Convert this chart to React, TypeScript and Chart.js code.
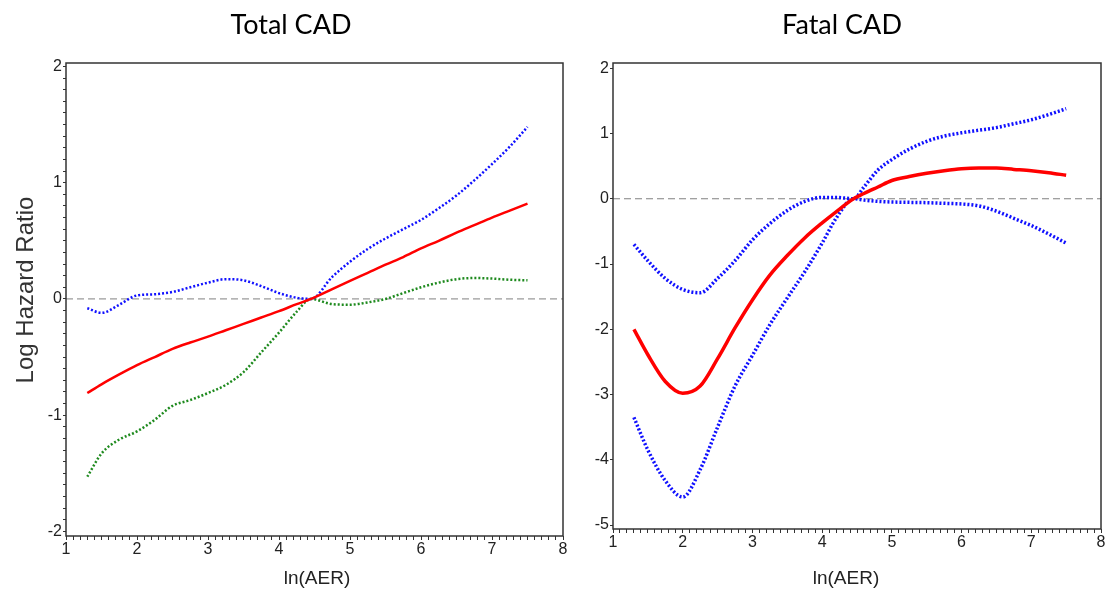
import React, { useEffect, useRef } from "react";
import { Chart, registerables } from "chart.js";

Chart.register(...registerables);

// ---------- Data: Total CAD ----------
const totalX = [1.3, 1.5, 1.75, 2.0, 2.25, 2.5, 2.75, 3.0, 3.25, 3.5, 3.75, 4.0, 4.25, 4.45, 4.75, 5.0, 5.25, 5.5, 5.75, 6.0, 6.25, 6.5, 6.75, 7.0, 7.25, 7.5];
const totalEstimate = [-0.81, -0.735, -0.65, -0.57, -0.5, -0.43, -0.375, -0.325, -0.27, -0.215, -0.16, -0.105, -0.045, 0.0, 0.085, 0.155, 0.225, 0.295, 0.36, 0.435, 0.5, 0.57, 0.635, 0.7, 0.76, 0.82];
const totalUpper = [-0.08, -0.12, -0.05, 0.03, 0.04, 0.06, 0.1, 0.14, 0.17, 0.16, 0.11, 0.05, 0.01, 0.0, 0.19, 0.32, 0.43, 0.52, 0.6, 0.68, 0.78, 0.89, 1.02, 1.16, 1.31, 1.48];
const totalLower = [-1.53, -1.33, -1.21, -1.14, -1.04, -0.92, -0.87, -0.81, -0.74, -0.63, -0.46, -0.29, -0.11, 0.0, -0.045, -0.05, -0.03, 0.0, 0.05, 0.1, 0.14, 0.17, 0.18, 0.175, 0.165, 0.16];

// ---------- Data: Fatal CAD ----------
const fatalX = [1.3, 1.5, 1.75, 2.0, 2.25, 2.5, 2.75, 3.0, 3.25, 3.5, 3.75, 4.0, 4.2, 4.45, 4.6, 4.8, 5.0, 5.25, 5.5, 5.75, 6.0, 6.25, 6.5, 6.75, 7.0, 7.25, 7.5];
const fatalEstimate = [-2.0, -2.39, -2.8, -2.98, -2.87, -2.45, -1.98, -1.55, -1.17, -0.87, -0.6, -0.37, -0.2, 0.0, 0.08, 0.18, 0.28, 0.34, 0.39, 0.43, 0.46, 0.47, 0.47, 0.45, 0.43, 0.4, 0.36];
const fatalUpper = [-0.7, -0.95, -1.22, -1.39, -1.44, -1.22, -0.95, -0.63, -0.38, -0.18, -0.04, 0.02, 0.02, 0.0, 0.18, 0.44, 0.6, 0.76, 0.88, 0.96, 1.01, 1.05, 1.09, 1.15, 1.21, 1.29, 1.38];
const fatalLower = [-3.35, -3.85, -4.32, -4.57, -4.15, -3.5, -2.87, -2.4, -1.93, -1.52, -1.12, -0.68, -0.3, 0.0, -0.02, -0.04, -0.05, -0.055, -0.06, -0.07, -0.08, -0.11, -0.19, -0.3, -0.41, -0.54, -0.68];

// reference line
const refX = [1, 8];
const refY = [0, 0];

// axes
const xMajorTicks = [1, 2, 3, 4, 5, 6, 7, 8];
const totalYMajorTicks = [-2, -1, 0, 1, 2];
const fatalYMajorTicks = [-5, -4, -3, -2, -1, 0, 1, 2];

const TICK_FONT = "'Liberation Sans Narrow', 'Arial Narrow', sans-serif";

function pts(xs: number[], ys: number[]) {
  return xs.map((x, i) => ({ x, y: ys[i] }));
}

function withMinor(major: number[], step: number) {
  const out: number[] = [];
  const lo = major[0];
  const hi = major[major.length - 1];
  const n = Math.round((hi - lo) / step);
  for (let i = 0; i <= n; i++) out.push(Math.round((lo + i * step) * 1000) / 1000);
  return out;
}

const textPlugin = {
  id: "texts",
  afterDraw(chart: any, _args: any, opts: any) {
    const ctx = chart.ctx;
    (opts.items || []).forEach((it: any) => {
      ctx.save();
      ctx.font = it.font;
      ctx.fillStyle = it.color;
      ctx.textAlign = "center";
      ctx.textBaseline = "middle";
      ctx.translate(it.x, it.y);
      if (it.rotate) ctx.rotate(it.rotate);
      ctx.fillText(it.text, 0, 0);
      ctx.restore();
    });
  },
};

const boxPlugin = {
  id: "box",
  afterDraw(chart: any) {
    const { ctx, chartArea } = chart;
    ctx.save();
    ctx.strokeStyle = "#333";
    ctx.lineWidth = 1.5;
    ctx.strokeRect(chartArea.left, chartArea.top, chartArea.right - chartArea.left, chartArea.bottom - chartArea.top);
    ctx.restore();
  },
};

type PanelCfg = {
  width: number;
  yWidth: number;
  xHeight: number;
  padRight: number;
  yMin: number;
  yMax: number;
  yTicks: number[];
  yMinor: boolean;
  datasets: any[];
  texts: any[];
};

function makeConfig(p: PanelCfg): any {
  const xTickVals = withMinor(xMajorTicks, 0.1);
  const yTickVals = p.yMinor ? withMinor(p.yTicks, 0.1) : p.yTicks.slice();
  const isInt = (v: number) => Math.abs(v - Math.round(v)) < 1e-6;
  return {
    type: "line",
    data: { datasets: p.datasets },
    plugins: [textPlugin, boxPlugin],
    options: {
      animation: false,
      responsive: false,
      devicePixelRatio: 1,
      layout: { padding: { top: 63, right: p.padRight, left: 0, bottom: 0 } },
      plugins: {
        legend: { display: false },
        tooltip: { enabled: false },
        texts: { items: p.texts },
      },
      elements: { point: { radius: 0 } },
      scales: {
        x: {
          type: "linear",
          min: 1,
          max: 8,
          afterBuildTicks: (s: any) => {
            s.ticks = xTickVals.map((v) => ({ value: v }));
          },
          afterFit: (s: any) => {
            s.height = p.xHeight;
          },
          grid: { drawOnChartArea: false, drawTicks: true, tickLength: 4, color: "#333", lineWidth: 1 },
          border: { display: false },
          ticks: {
            autoSkip: false,
            maxRotation: 0,
            padding: 0,
            color: "#222",
            font: { family: TICK_FONT, size: 16 },
            callback: (v: number) => (isInt(v) ? String(Math.round(v)) : ""),
          },
        },
        y: {
          type: "linear",
          min: p.yMin,
          max: p.yMax,
          afterBuildTicks: (s: any) => {
            s.ticks = yTickVals.map((v) => ({ value: v }));
          },
          afterFit: (s: any) => {
            s.width = p.yWidth;
          },
          grid: { drawOnChartArea: false, drawTicks: true, tickLength: 3, color: "#333", lineWidth: 1 },
          border: { display: false },
          ticks: {
            autoSkip: false,
            padding: 1,
            color: "#222",
            font: { family: TICK_FONT, size: 16 },
            callback: (v: number) => (isInt(v) ? String(Math.round(v)) : ""),
          },
        },
      },
    },
  };
}

const refDataset = {
  data: pts(refX, refY),
  borderColor: "#808080",
  borderWidth: 1,
  borderDash: [7, 4],
  pointRadius: 0,
  order: 10,
};

function line(xs: number[], ys: number[], color: string, width: number, dash: number[] | null, order: number) {
  return {
    data: pts(xs, ys),
    borderColor: color,
    borderWidth: width,
    borderDash: dash || [],
    pointRadius: 0,
    cubicInterpolationMode: "monotone",
    order,
  };
}

function Panel({ left, cfg }: { left: number; cfg: PanelCfg }) {
  const ref = useRef<HTMLCanvasElement | null>(null);
  useEffect(() => {
    if (!ref.current) return;
    const chart = new Chart(ref.current, makeConfig(cfg));
    return () => chart.destroy();
  }, []);
  return (
    <div style={{ position: "absolute", left, top: 0, width: cfg.width, height: 598 }}>
      <canvas ref={ref} width={cfg.width} height={598} style={{ width: cfg.width, height: 598, display: "block" }} />
    </div>
  );
}

const totalCfg: PanelCfg = {
  width: 582,
  yWidth: 66,
  xHeight: 62,
  padRight: 19,
  yMin: -2.04,
  yMax: 2.03,
  yTicks: totalYMajorTicks,
  yMinor: true,
  datasets: [
    line(totalX, totalEstimate, "#ff0000", 2.5, null, 1),
    line(totalX, totalUpper, "#1010ff", 2.5, [2, 2], 2),
    line(totalX, totalLower, "#1e8a1e", 2.5, [2, 2], 3),
    refDataset,
  ],
  texts: [
    { text: "Total CAD", x: 291, y: 25, font: "27px Lato, 'Open Sans', sans-serif", color: "#000" },
    { text: "Log Hazard Ratio", x: 26, y: 290, font: "24px 'Liberation Sans', Arial, sans-serif", color: "#333", rotate: -Math.PI / 2 },
    { text: "ln(AER)", x: 317, y: 579, font: "19px " + TICK_FONT, color: "#222" },
  ],
};

const fatalCfg: PanelCfg = {
  width: 536,
  yWidth: 39,
  xHeight: 69,
  padRight: 9,
  yMin: -5.06,
  yMax: 2.08,
  yTicks: fatalYMajorTicks,
  yMinor: false,
  datasets: [
    line(fatalX, fatalEstimate, "#ff0000", 3.5, null, 1),
    line(fatalX, fatalUpper, "#1010ff", 3.5, [2, 2], 2),
    line(fatalX, fatalLower, "#1010ff", 3.5, [2, 2], 3),
    refDataset,
  ],
  texts: [
    { text: "Fatal CAD", x: 268, y: 25, font: "27px Lato, 'Open Sans', sans-serif", color: "#000" },
    { text: "ln(AER)", x: 272, y: 579, font: "19px " + TICK_FONT, color: "#222" },
  ],
};

export default function App() {
  return (
    <div style={{ position: "absolute", left: 0, top: 0, width: 1110, height: 598, background: "#fff" }}>
      <Panel left={0} cfg={totalCfg} />
      <Panel left={574} cfg={fatalCfg} />
    </div>
  );
}
